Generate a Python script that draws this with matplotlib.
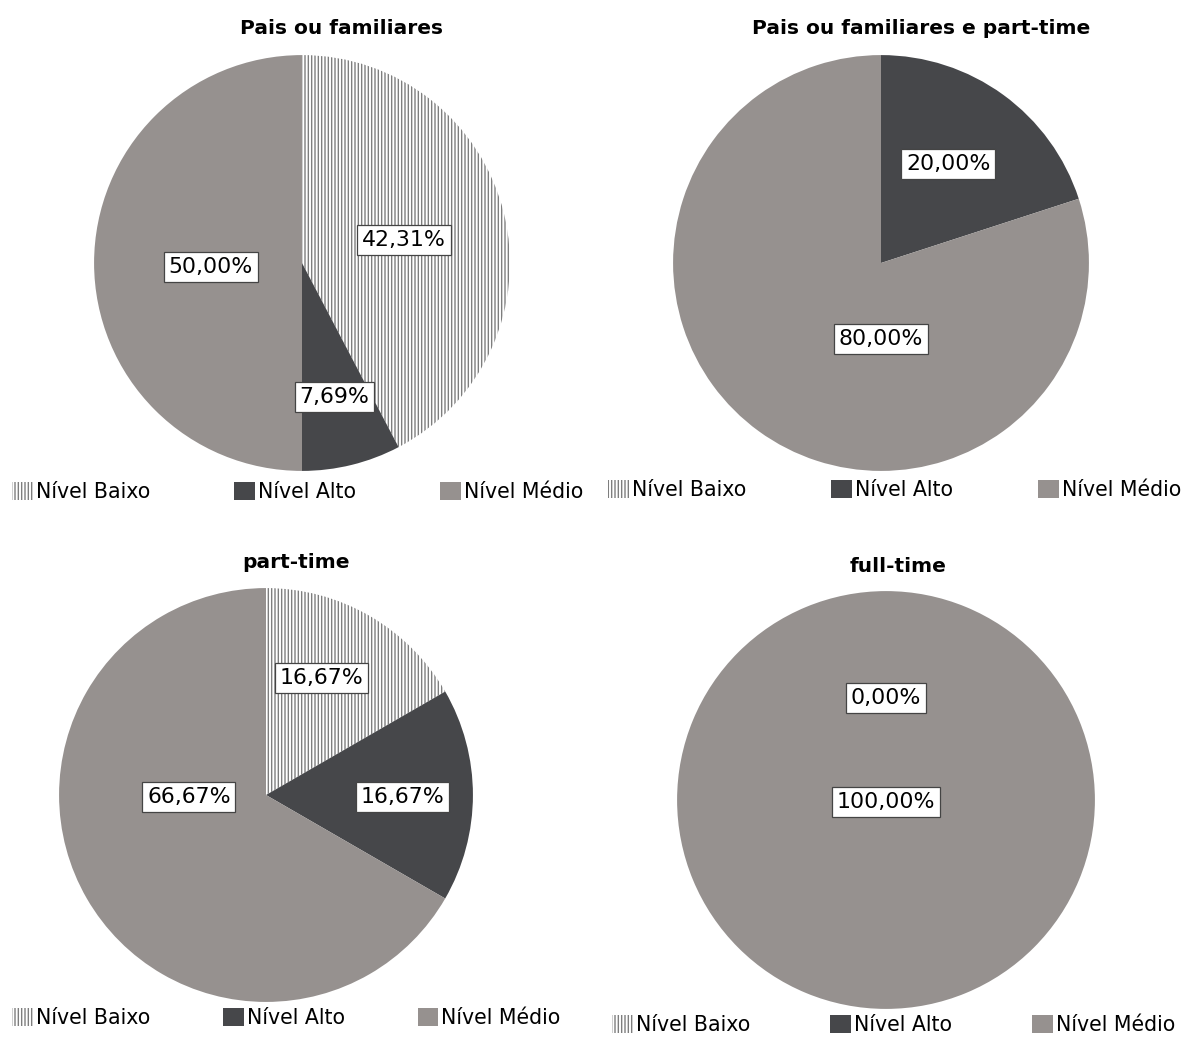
import matplotlib.pyplot as plt
import matplotlib.patches as mpatches

plt.rcParams['font.family'] = ['DejaVu Sans']
plt.rcParams['hatch.linewidth'] = 1.0
plt.rcParams['hatch.color'] = '#7e7e7e'

# Dados
categorias = ['Nível Baixo', 'Nível Alto', 'Nível Médio']
titulos = ['Pais ou familiares', 'Pais ou familiares e part-time',
           'part-time', 'full-time']
pais = [42.31, 7.69, 50.00]
pais_part = [0.00, 20.00, 80.00]
part_time = [16.67, 16.67, 66.67]
full_time = [0.00, 0.00, 100.00]
series = [pais, pais_part, part_time, full_time]

# fatias com rótulo em cada gráfico
rotulados = [[0, 1, 2], [1, 2], [0, 1, 2], [1, 2]]

# Layout (pixels)
W, H = 1189, 1037
centros = [(302, 263, 210), (881, 263, 210), (266, 795, 209), (886, 800, 211)]
pos_rotulos = [
    [(0.49, 0.11), (0.157, -0.643), (-0.438, -0.019)],
    [None, (0.324, 0.476), (0.0, -0.367)],
    [(0.268, 0.565), (0.66, -0.01), (-0.373, -0.01)],
    [None, (0.0, 0.488), (0.0, -0.01)],
]
pos_titulos = [(342, 28), (921, 28), (296, 562), (898, 567)]
pos_legendas = [(12, 492), (608, 490), (12, 1018), (612, 1025)]
espaco_legenda = [4.1, 4.15, 3.55, 3.9]

cor_alto = '#46474a'
cor_medio = '#96918f'
cor_hachura = '#7e7e7e'

fig = plt.figure(figsize=(W / 100, H / 100), dpi=100)


def fmt(v):
    return f'{v:.2f}%'.replace('.', ',')


for k, valores in enumerate(series):
    cx, cy, r = centros[k]
    ax = fig.add_axes([(cx - r) / W, 1 - (cy + r) / H, 2 * r / W, 2 * r / H])
    wedges, _ = ax.pie(valores, colors=['white', cor_alto, cor_medio],
                       startangle=90, counterclock=False, radius=1,
                       wedgeprops=dict(linewidth=0))
    wedges[0].set_hatch('|||||')
    wedges[0].set_edgecolor(cor_hachura)
    ax.set_xlim(-1.01, 1.01)
    ax.set_ylim(-1.01, 1.01)
    ax.set_aspect('equal')
    ax.axis('off')

    for i in rotulados[k]:
        dx, dy = pos_rotulos[k][i]
        ax.text(dx, dy, fmt(valores[i]), ha='center', va='center', fontsize=15.8,
                bbox=dict(boxstyle='square,pad=0.22', facecolor='white',
                          edgecolor='#444444', linewidth=0.9))

    tx, ty = pos_titulos[k]
    fig.text(tx / W, 1 - ty / H, titulos[k], ha='center', va='center',
             fontsize=14.5, fontweight='bold')

    handles = [
        mpatches.Patch(facecolor='white', edgecolor=cor_hachura, linewidth=0,
                       hatch='|||||', label=categorias[0]),
        mpatches.Patch(facecolor=cor_alto, label=categorias[1]),
        mpatches.Patch(facecolor=cor_medio, label=categorias[2]),
    ]
    lx, ly = pos_legendas[k]
    fig.legend(handles=handles, loc='center left',
               bbox_to_anchor=(lx / W, 1 - ly / H), ncol=3, frameon=False,
               fontsize=14.8, handlelength=1.0, handleheight=1.0,
               handletextpad=0.15, columnspacing=espaco_legenda[k],
               borderpad=0, borderaxespad=0)

fig.savefig('out.png', dpi=100, facecolor='white')
